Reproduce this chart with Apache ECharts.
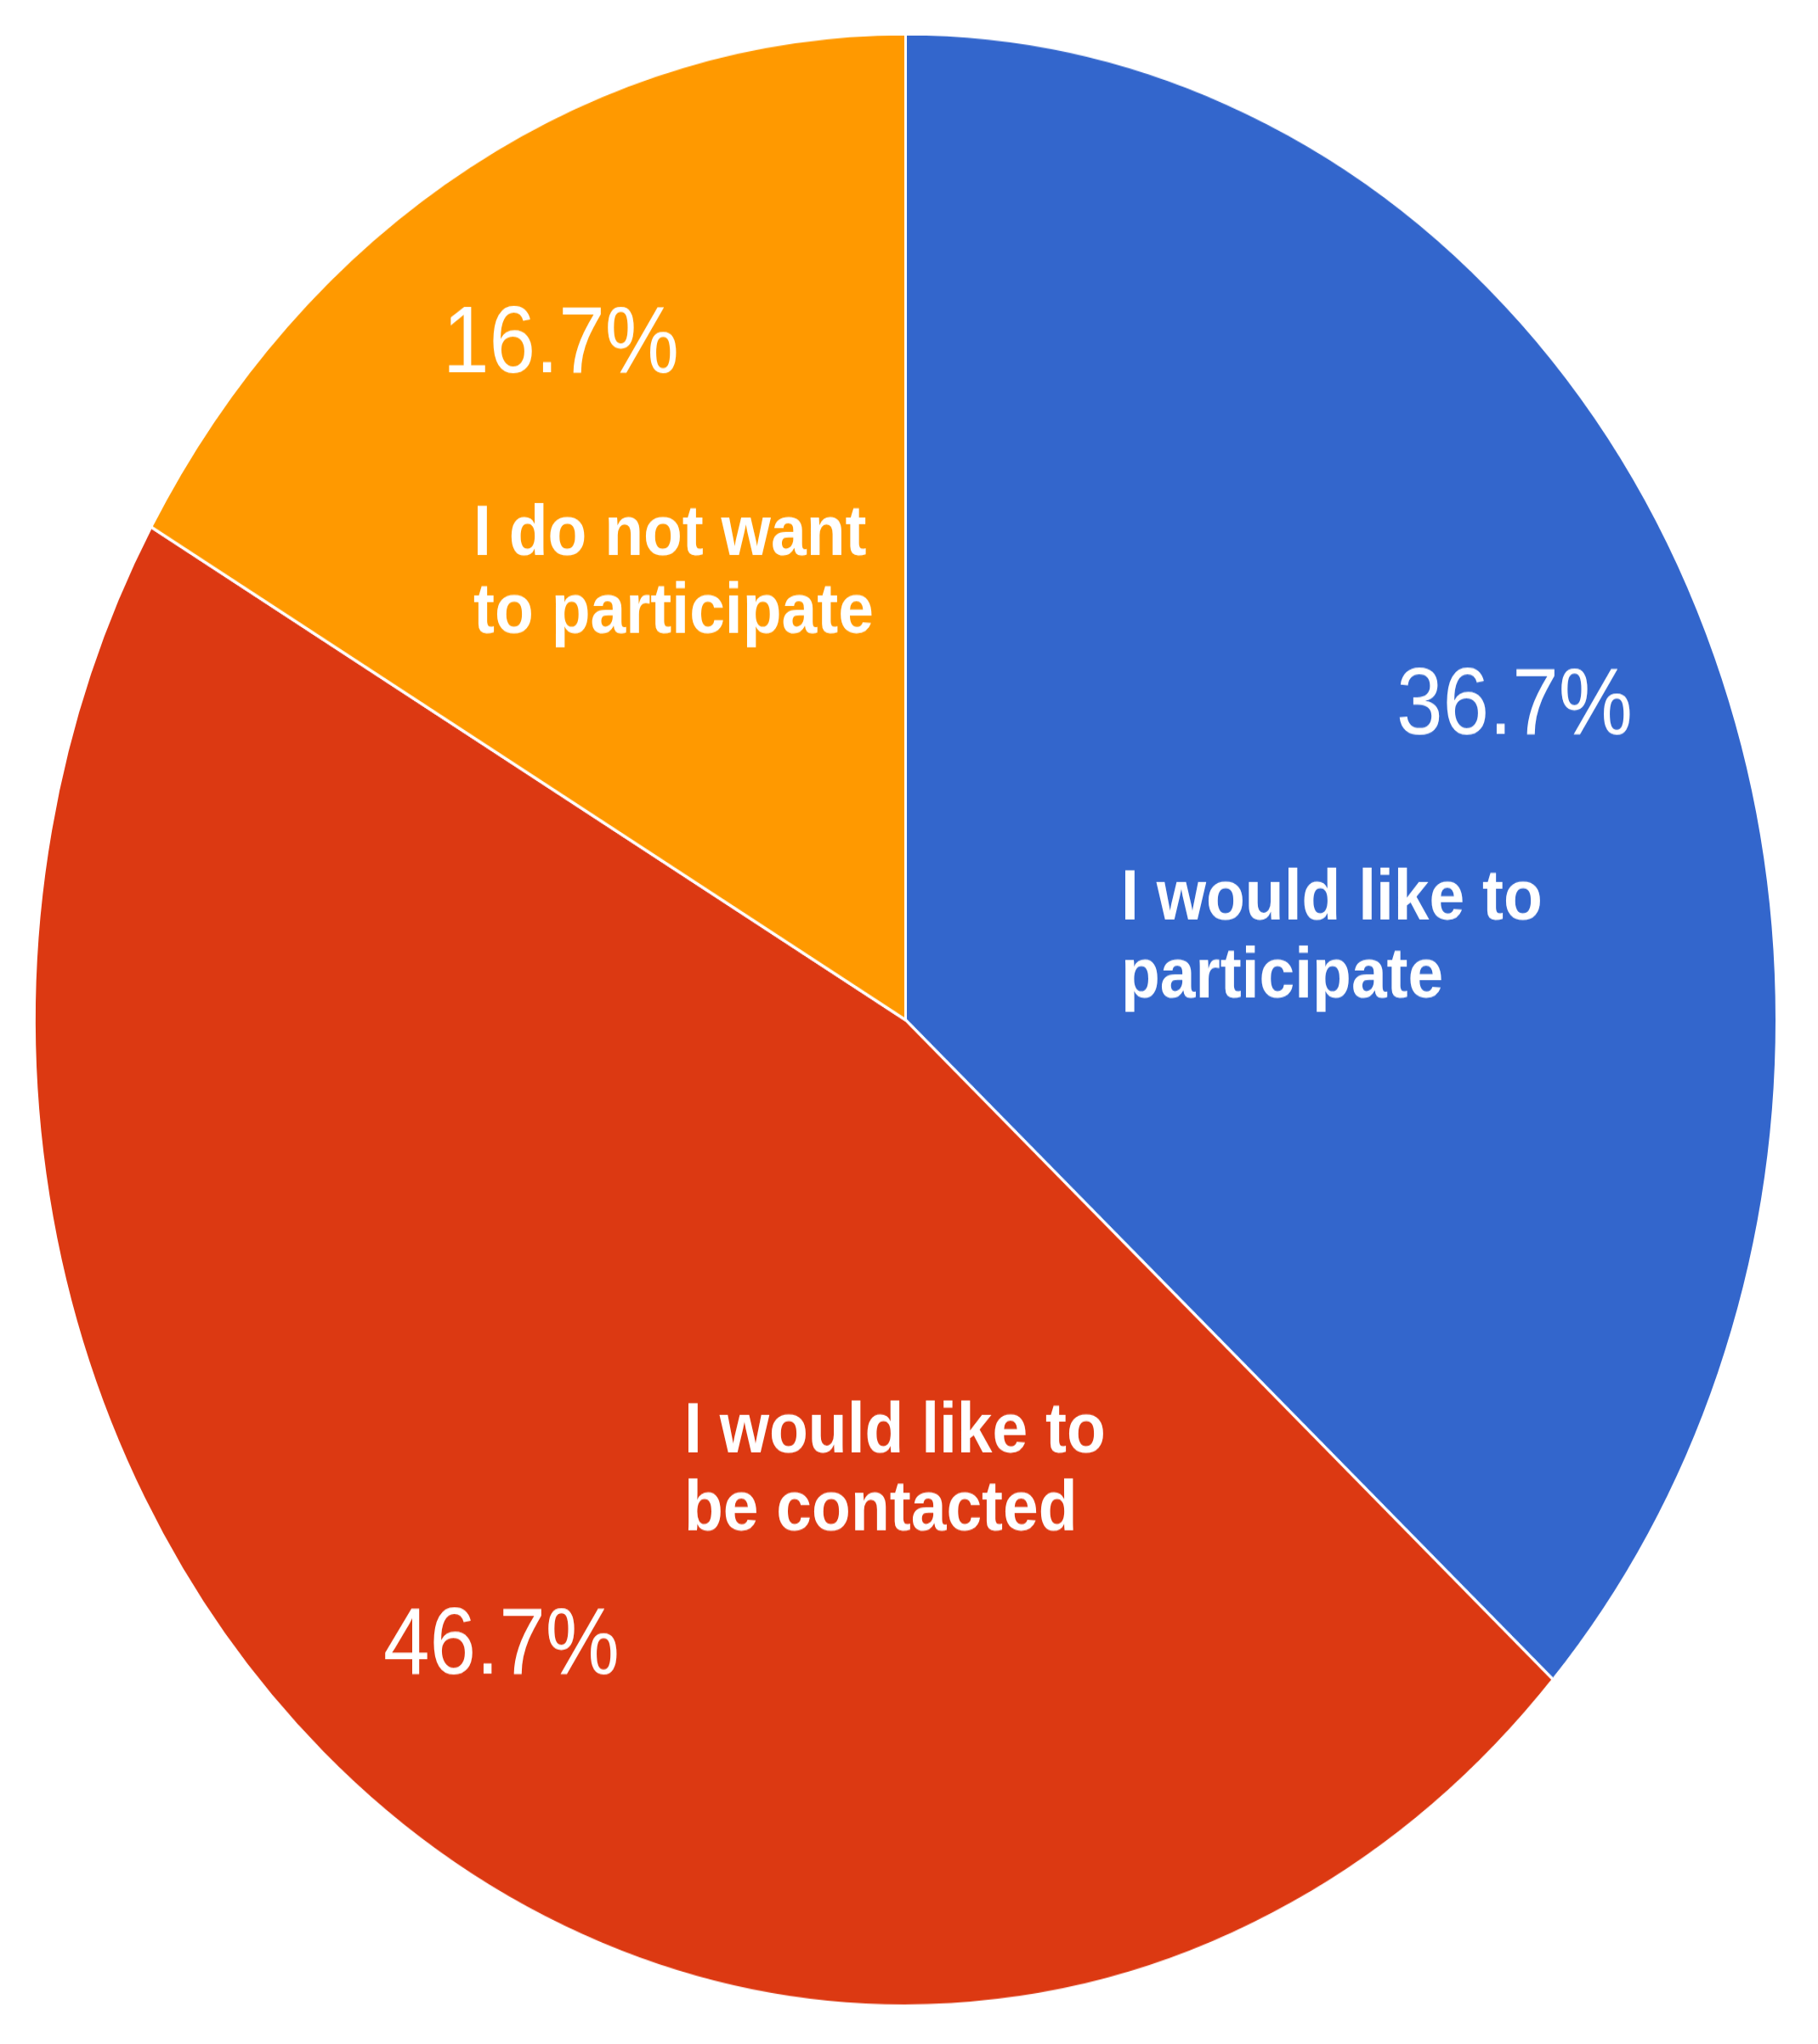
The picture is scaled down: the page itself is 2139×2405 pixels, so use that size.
<!DOCTYPE html>
<html>
<head>
<meta charset="utf-8">
<script src="https://cdn.jsdelivr.net/npm/echarts@6/dist/echarts.min.js"></script>
<style>
  html, body { margin: 0; padding: 0; background: #ffffff; overflow: hidden; }
  #wrap { width: 2139px; height: 2405px; position: relative; overflow: hidden; }
  #chart { position: absolute; left: 0; top: 0; width: 2139px; transform-origin: 0 0; }
</style>
</head>
<body>
<div id="wrap"><div id="chart"></div></div>
<script>
// ---- data ----
const categories = ['I would like to participate', 'I would like to be contacted', 'I do not want to participate'];
const responses = [11, 14, 5];
const sliceColors = ['#3366CC', '#DC3912', '#FF9900'];

// ---- layout (screen px of the reference) ----
const W = 2139, H = 2405;
const pieCx = 1065.5, pieCy = 1200, pieRx = 1025, pieRy = 1160;
const stretch = pieRy / pieRx;            // the pie in the reference is an ellipse
const chartH = H / stretch;
// label anchor positions on screen
const pctPos = [[1782, 833], [590, 1939], [660, 407]];
const namePos = [[1319, 1104], [805, 1731], [557, 675]];

const el = document.getElementById('chart');
el.style.height = chartH + 'px';
el.style.transform = 'scaleY(' + stretch + ')';

const chart = echarts.init(el, null, { renderer: 'canvas', width: W, height: chartH });
const font = '"Liberation Sans", Arial, sans-serif';
const total = responses.reduce((a, b) => a + b, 0);
const dataItems = categories.map((c, i) => ({ name: c, value: responses[i], itemStyle: { color: sliceColors[i] } }));

chart.setOption({
  animation: false,
  backgroundColor: '#ffffff',
  series: [
    {
      type: 'pie',
      center: [pieCx, pieCy / stretch],
      radius: [0, pieRx],
      startAngle: 90,
      clockwise: true,
      silent: true,
      itemStyle: { borderColor: '#ffffff', borderWidth: 3 },
      label: {
        show: true, position: 'inside',
        formatter: function (p) { return (p.value / total * 100).toFixed(1) + '%'; },
        color: '#ffffff', fontFamily: font, fontSize: 98, fontWeight: 'normal'
      },
      labelLine: { show: false },
      labelLayout: function (p) {
        const q = pctPos[p.dataIndex];
        return { x: q[0], y: q[1] / stretch, align: 'center', verticalAlign: 'middle' };
      },
      data: dataItems
    },
    {
      type: 'pie',
      center: [pieCx, pieCy / stretch],
      radius: [0, pieRx],
      startAngle: 90,
      clockwise: true,
      silent: true,
      itemStyle: { color: 'rgba(0,0,0,0)', borderWidth: 0 },
      label: {
        show: true, position: 'inside', formatter: '{b}',
        color: '#ffffff', fontFamily: font, fontSize: 75, fontWeight: 'bold',
        lineHeight: 81, width: 520, overflow: 'break', align: 'left'
      },
      labelLine: { show: false },
      labelLayout: function (p) {
        const q = namePos[p.dataIndex];
        return { x: q[0], y: q[1] / stretch, align: 'left', verticalAlign: 'middle' };
      },
      data: categories.map((c, i) => ({ name: c, value: responses[i] }))
    }
  ]
});
</script>
</body>
</html>
